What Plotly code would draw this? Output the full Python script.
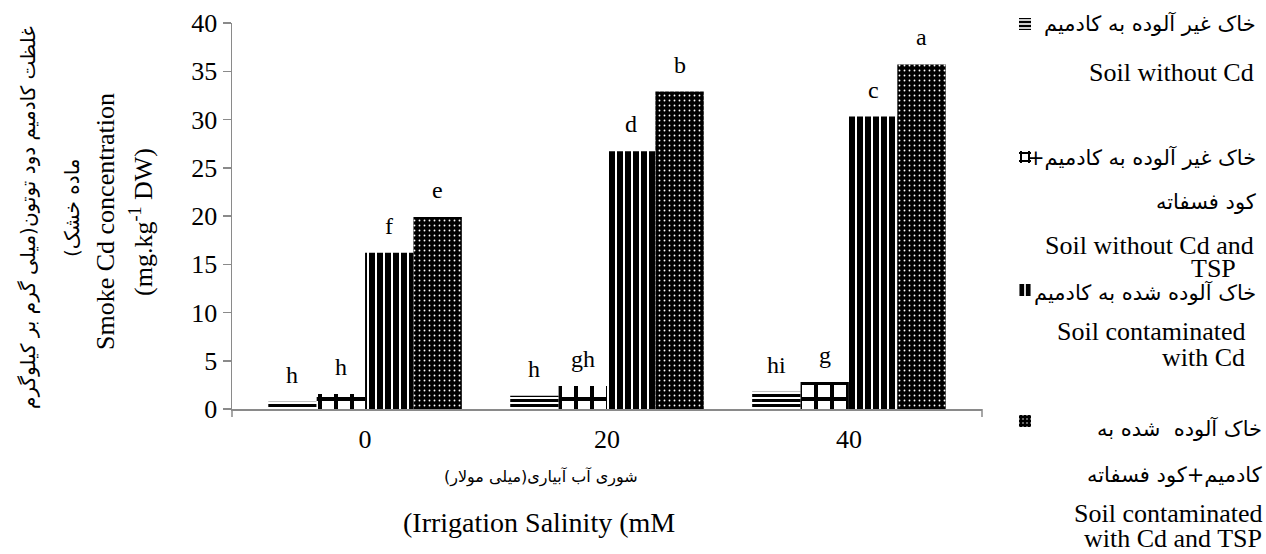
import plotly.graph_objects as go

# ---------------- data ----------------
categories = ["0", "20", "40"]
soil_without_cd = [0.75, 1.38, 1.8]
soil_without_cd_tsp = [1.55, 2.38, 2.8]
soil_cd = [16.2, 26.7, 30.3]
soil_cd_tsp = [19.9, 32.9, 35.7]
letters_without_cd = ["h", "h", "hi"]
letters_without_cd_tsp = ["h", "gh", "g"]
letters_cd = ["f", "d", "c"]
letters_cd_tsp = ["e", "b", "a"]
y_ticks = [0, 5, 10, 15, 20, 25, 30, 35, 40]

values = [soil_without_cd, soil_without_cd_tsp, soil_cd, soil_cd_tsp]
letters = [letters_without_cd, letters_without_cd_tsp, letters_cd, letters_cd_tsp]

# ---------------- layout geometry (pixels) ----------------
W, H = 1266, 554
L, R, T, B = 232, 982, 23, 409


def px_x(px):
    return (px - L) / (R - L)


def px_y(py):
    return (B - py) / (B - T)


SERIF = "Liberation Serif, Times New Roman, serif"
FA = "DejaVu Sans, Noto Sans, sans-serif"
AXIS_GRAY = "#8a8a8a"

patterns = [
    dict(shape="-", fgcolor="#000000", bgcolor="#ffffff", size=5, solidity=0.6,
         fgopacity=1, fillmode="replace"),
    dict(shape="+", fgcolor="#000000", bgcolor="#ffffff", size=16, solidity=0.4375,
         fgopacity=1, fillmode="replace"),
    dict(shape="|", fgcolor="#000000", bgcolor="#ffffff", size=8, solidity=0.75,
         fgopacity=1, fillmode="replace"),
    dict(shape=".", fgcolor="#ffffff", bgcolor="#000000", size=5, solidity=0.11,
         fgopacity=1, fillmode="replace"),
]
legend_ids = ["legend", "legend2", "legend3", "legend4"]

xs = list(range(len(categories)))
n_series = len(values)
bargap = 0.2
bar_w = (1 - bargap) / n_series

fig = go.Figure()
for i in range(n_series):
    fig.add_trace(
        go.Bar(
            x=xs,
            y=values[i],
            name=" ",
            legend=legend_ids[i],
            marker=dict(color="#000000", line=dict(width=0), pattern=patterns[i]),
            hoverinfo="skip",
        )
    )

annotations = []
# letters above bars
for i in range(n_series):
    for j, xv in enumerate(xs):
        annotations.append(
            dict(
                x=xv + (i - (n_series - 1) / 2) * bar_w,
                y=values[i][j],
                xref="x",
                yref="y",
                text=letters[i][j],
                showarrow=False,
                yanchor="bottom",
                yshift=12,
                font=dict(family=SERIF, size=24, color="black"),
            )
        )

# y-axis titles (rotated)
ytitle_lines = [
    ("غلظت کادمیم دود توتون(میلی گرم بر کیلوگرم", 28, 217, FA, 20),
    ("(" + "ماده خشک", 72, 208, FA, 20),
    ("Smoke Cd concentration", 105, 222, SERIF, 26),
    ("(mg.kg<sup>-1</sup> DW)", 141, 222, SERIF, 26),
]
for txt, px, py, fam, sz in ytitle_lines:
    annotations.append(
        dict(
            x=px_x(px), y=px_y(py), xref="paper", yref="paper",
            text=txt, showarrow=False, textangle=-90,
            xanchor="center", yanchor="middle",
            font=dict(family=fam, size=sz, color="black"),
        )
    )

# x-axis titles
annotations.append(
    dict(x=px_x(541), y=px_y(477), xref="paper", yref="paper",
         text="شوری آب آبیاری(میلی مولار)", showarrow=False,
         xanchor="center", yanchor="middle",
         font=dict(family=FA, size=16, color="black"))
)
annotations.append(
    dict(x=px_x(539), y=px_y(522), xref="paper", yref="paper",
         text="(Irrigation Salinity (mM", showarrow=False,
         xanchor="center", yanchor="middle",
         font=dict(family=SERIF, size=28, color="black"))
)

# legend texts (right-aligned)
legend_lines = [
    ("خاک غیر آلوده به کادمیم", 24, 1258, FA, 21),
    ("Soil without Cd", 72, 1256, SERIF, 26),
    ("+" + "خاک غیر آلوده به کادمیم", 158, 1258, FA, 21),
    ("کود فسفاته", 202, 1258, FA, 21),
    ("Soil without Cd and", 245, 1256, SERIF, 26),
    ("TSP", 268, 1238, SERIF, 26),
    ("خاک آلوده شده به کادمیم", 293, 1258, FA, 21),
    ("Soil contaminated", 331, 1247, SERIF, 26),
    ("with Cd", 357, 1247, SERIF, 26),
    ("خاک آلوده  شده به", 428, 1264, FA, 21),
    ("کادمیم+کود فسفاته", 475, 1264, FA, 21),
    ("Soil contaminated", 513, 1264, SERIF, 26),
    ("with Cd and TSP", 538, 1264, SERIF, 26),
]
for txt, py, pxr, fam, sz in legend_lines:
    annotations.append(
        dict(x=px_x(pxr), y=px_y(py), xref="paper", yref="paper",
             text=txt, showarrow=False, xanchor="right", yanchor="middle",
             font=dict(family=fam, size=sz, color="black"))
    )

# x-axis end ticks
tick_len = 8 / (B - T)
shapes = [
    dict(type="line", xref="paper", yref="paper", x0=0, x1=0, y0=0, y1=-tick_len,
         line=dict(color=AXIS_GRAY, width=1.5)),
    dict(type="line", xref="paper", yref="paper", x0=1, x1=1, y0=0, y1=-tick_len,
         line=dict(color=AXIS_GRAY, width=1.5)),
]

legend_y_px = [24, 157, 290, 421]
legend_layouts = {}
for lid, py in zip(legend_ids, legend_y_px):
    legend_layouts[lid] = dict(
        x=px_x(1005), y=px_y(py), xref="paper", yref="paper",
        xanchor="left", yanchor="middle",
        bgcolor="rgba(0,0,0,0)", borderwidth=0,
        font=dict(family=SERIF, size=10, color="black"),
    )

fig.update_layout(
    width=W,
    height=H,
    margin=dict(l=L, r=W - R, t=T, b=H - B, pad=0, autoexpand=False),
    paper_bgcolor="white",
    plot_bgcolor="white",
    barmode="group",
    bargap=bargap,
    bargroupgap=0,
    showlegend=True,
    annotations=annotations,
    shapes=shapes,
    xaxis=dict(
        range=[-0.55, 2.55],
        tickvals=xs,
        ticktext=categories,
        showline=True,
        linecolor=AXIS_GRAY,
        linewidth=1.5,
        ticks="",
        ticklabelstandoff=6,
        showgrid=False,
        zeroline=False,
        tickfont=dict(family=SERIF, size=26, color="black"),
        fixedrange=True,
    ),
    yaxis=dict(
        range=[0, 40],
        tickvals=y_ticks,
        showline=True,
        linecolor=AXIS_GRAY,
        linewidth=1.5,
        ticks="outside",
        ticklen=8,
        tickwidth=1.5,
        tickcolor=AXIS_GRAY,
        showgrid=False,
        zeroline=False,
        tickfont=dict(family=SERIF, size=26, color="black"),
        fixedrange=True,
    ),
    **legend_layouts,
)

fig.write_html(
    "out.html",
    config={"displayModeBar": False, "staticPlot": True},
    post_script="document.body.style.margin='0px';document.body.style.overflow='hidden';",
)
